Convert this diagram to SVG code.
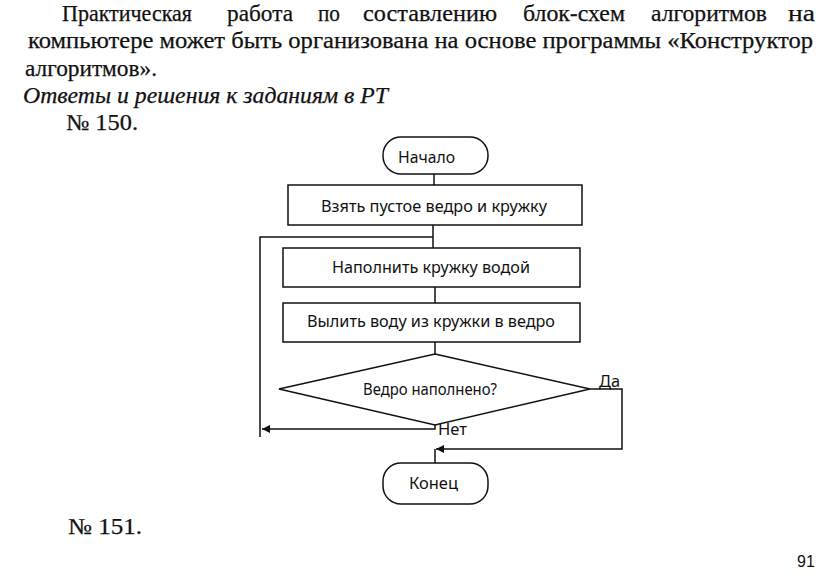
<svg xmlns="http://www.w3.org/2000/svg" width="816" height="575" viewBox="0 0 816 575">
<style>
.body{font-family:"Liberation Serif","Times New Roman",serif;font-size:23px;fill:#111;stroke:#111;stroke-width:0.25}
.it{font-style:italic}
.lbl{font-family:"Noto Sans","Open Sans","Liberation Sans",sans-serif;font-size:16px;fill:#111}
.shape{fill:#fff;stroke:#111;stroke-width:1.5}
.conn{fill:none;stroke:#111;stroke-width:1.5}
</style>
<defs>
<marker id="arr" viewBox="0 0 10 10" refX="10" refY="5" markerWidth="8" markerHeight="8" markerUnits="userSpaceOnUse" orient="auto">
<path d="M0,0 L10,5 L0,10 Z" fill="#111"/>
</marker>
</defs>
<rect width="816" height="575" fill="#fff"/>
<g id="text-body">
<text class="body" x="62" y="21" textLength="130" lengthAdjust="spacingAndGlyphs">Практическая</text>
<text class="body" x="227" y="21" textLength="66" lengthAdjust="spacingAndGlyphs">работа</text>
<text class="body" x="318" y="21" textLength="22" lengthAdjust="spacingAndGlyphs">по</text>
<text class="body" x="363" y="21" textLength="134" lengthAdjust="spacingAndGlyphs">составлению</text>
<text class="body" x="523" y="21" textLength="102" lengthAdjust="spacingAndGlyphs">блок-схем</text>
<text class="body" x="651" y="21" textLength="116" lengthAdjust="spacingAndGlyphs">алгоритмов</text>
<text class="body" x="788" y="21" textLength="27" lengthAdjust="spacingAndGlyphs">на</text>
<text class="body" x="28" y="48" textLength="785" lengthAdjust="spacingAndGlyphs">компьютере может быть организована на основе программы «Конструктор</text>
<text class="body" x="25" y="76" textLength="132" lengthAdjust="spacingAndGlyphs">алгоритмов».</text>
<text class="body it" x="23" y="103" textLength="365" lengthAdjust="spacingAndGlyphs">Ответы и решения к заданиям в РТ</text>
<text class="body" x="66" y="130" textLength="72" lengthAdjust="spacingAndGlyphs">№ 150.</text>
<text class="body" x="68" y="534" textLength="74" lengthAdjust="spacingAndGlyphs">№ 151.</text>
<text x="797" y="567" font-family="Liberation Sans, Arial, sans-serif" font-size="16" fill="#111">91</text>
</g>
<g id="connectors">
<path class="conn" d="M434,174 V185"/>
<path class="conn" d="M433,225 V248"/>
<path class="conn" d="M433,237 H260 V437"/>
<path class="conn" d="M435,287 V303"/>
<path class="conn" d="M435,342 V354"/>
<path class="conn" d="M435,425 V429 H262" marker-end="url(#arr)"/>
<path class="conn" d="M590,389 H622 V449 H436" marker-end="url(#arr)"/>
<path class="conn" d="M435,449 V463"/>
<text class="lbl" x="599" y="387" textLength="21" lengthAdjust="spacingAndGlyphs">Да</text>
<text class="lbl" x="438" y="435" textLength="29" lengthAdjust="spacingAndGlyphs">Нет</text>
</g>
<g id="start">
<rect class="shape" x="383" y="137" width="105" height="37" rx="18"/>
<text class="lbl" x="398" y="163" textLength="57" lengthAdjust="spacingAndGlyphs">Начало</text>
</g>
<g id="step1">
<rect class="shape" x="288" y="185" width="294" height="40"/>
<text class="lbl" x="321" y="212" textLength="226" lengthAdjust="spacingAndGlyphs">Взять пустое ведро и кружку</text>
</g>
<g id="step2">
<rect class="shape" x="283" y="248" width="297" height="39"/>
<text class="lbl" x="332" y="273" textLength="198" lengthAdjust="spacingAndGlyphs">Наполнить кружку водой</text>
</g>
<g id="step3">
<rect class="shape" x="283" y="303" width="297" height="39"/>
<text class="lbl" x="307" y="327" textLength="248" lengthAdjust="spacingAndGlyphs">Вылить воду из кружки в ведро</text>
</g>
<g id="decision">
<polygon class="shape" points="435,354 590,389 435,425 279,389"/>
<text class="lbl" x="363" y="395" textLength="134" lengthAdjust="spacingAndGlyphs">Ведро наполнено?</text>
</g>
<g id="end">
<rect class="shape" x="383" y="463" width="105" height="41" rx="18"/>
<text class="lbl" x="409" y="489" textLength="49" lengthAdjust="spacingAndGlyphs">Конец</text>
</g>
</svg>
